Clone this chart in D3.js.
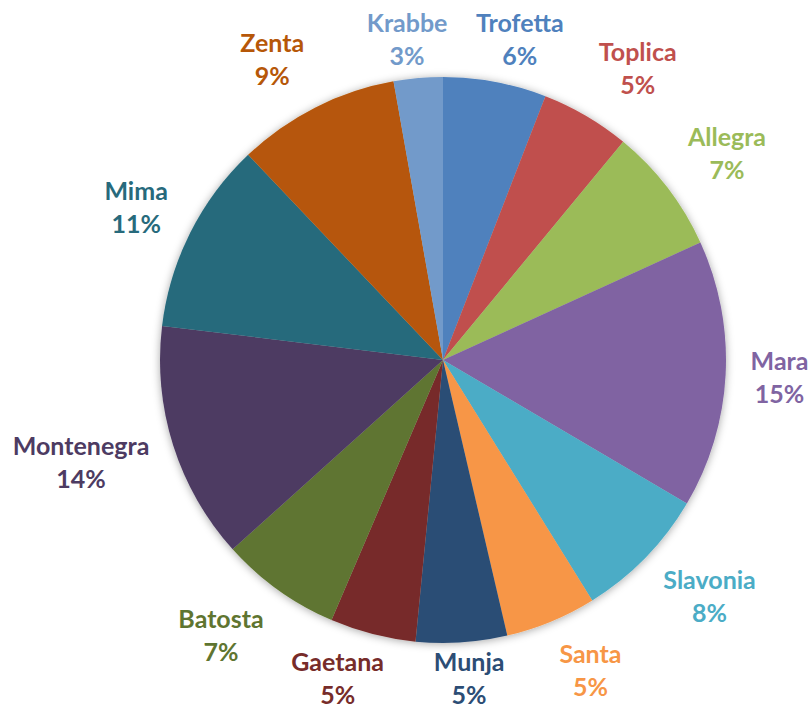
<!doctype html>
<html lang="en">
    <head>
        <meta charset="utf-8">
        <title>Pie</title>
        <script type="text/javascript" src="https://cdn.jsdelivr.net/npm/d3@7"></script>
        <style>
            body { margin: 0; background: #fff; }
            .label { font-family: Lato, "Open Sans", sans-serif; font-weight: bold; font-size: 25px; }
        </style>
    </head>
    <body>
        <script type="text/javascript">

            // data, clockwise from 12 o'clock
            var names = ["Trofetta", "Toplica", "Allegra", "Mara", "Slavonia", "Santa", "Munja",
                         "Gaetana", "Batosta", "Montenegra", "Mima", "Zenta", "Krabbe"];
            var values = [5.9, 5.1, 7.2, 15.3, 7.7, 5.2, 5.2, 4.9, 6.9, 13.6, 11.0, 9.3, 2.8];
            var colors = ["#4F81BD", "#C0504D", "#9BBB59", "#8064A2", "#4BACC6", "#F79646", "#2C4D75",
                          "#772C2A", "#5F7530", "#4D3B62", "#276A7C", "#B65708", "#729ACA"];

            var svgW = 811;
            var svgH = 709;
            var cx = 443, cy = 360, radius = 283;

            var data = names.map((n, i) => ({name: n, value: values[i], color: colors[i]}));
            var total = d3.sum(values);
            var fmtPct = d3.format(".0%");

            var svg = d3.select("body")
                        .append("svg")
                        .attr("width", svgW)
                        .attr("height", svgH);

            var defs = svg.append("defs");
            var f = defs.append("filter")
                        .attr("id", "shadow")
                        .attr("x", "-10%").attr("y", "-10%")
                        .attr("width", "120%").attr("height", "120%");
            f.append("feDropShadow")
             .attr("dx", 0)
             .attr("dy", 1)
             .attr("stdDeviation", 4)
             .attr("flood-color", "#000")
             .attr("flood-opacity", 0.35);

            var pie = d3.pie()
                        .sort(null)
                        .value(d => d.value);

            var arc = d3.arc()
                        .innerRadius(0)
                        .outerRadius(radius);

            var arcs = pie(data);

            var g = svg.append("g")
                       .attr("transform", "translate(" + cx + "," + cy + ")");

            g.append("g")
             .attr("filter", "url(#shadow)")
             .selectAll("path")
             .data(arcs)
             .enter()
             .append("path")
             .attr("d", arc)
             .style("fill", d => d.data.color);

            // labels outside: anchor a bit off the rim, then shift the box
            // away from it (full shift in the diagonals, less near the axes)
            var lineH = 33;
            var capH = 18;
            var gap = 25;
            var clamp1 = t => Math.max(-1, Math.min(1, t));

            var labels = g.selectAll("text.label")
                          .data(arcs)
                          .enter()
                          .append("text")
                          .attr("class", "label")
                          .attr("text-anchor", "middle")
                          .style("fill", d => d.data.color);

            labels.append("tspan")
                  .attr("x", 0)
                  .attr("y", 0)
                  .text(d => d.data.name);
            labels.append("tspan")
                  .attr("x", 0)
                  .attr("y", lineH)
                  .text(d => fmtPct(d.data.value / total));

            labels.each(function(d) {
                var bb = this.getBBox();
                var a = bb.width / 2;
                var b = (capH + lineH) / 2;
                var ang = (d.startAngle + d.endAngle) / 2;
                var ux = Math.sin(ang), uy = -Math.cos(ang);
                var px = ux * (radius + gap) + clamp1(ux * 2.5) * a;
                var py = uy * (radius + gap) + clamp1(uy * 1.2) * b;
                // keep inside the chart area
                var top = py - b + cy, bottom = py + b + cy;
                if (top < 14) py += 14 - top;
                if (bottom > svgH - 5) py -= bottom - (svgH - 5);
                d3.select(this)
                  .attr("transform", "translate(" + px + "," + (py - b + capH) + ")");
            });
        </script>
    </body>
</html>
